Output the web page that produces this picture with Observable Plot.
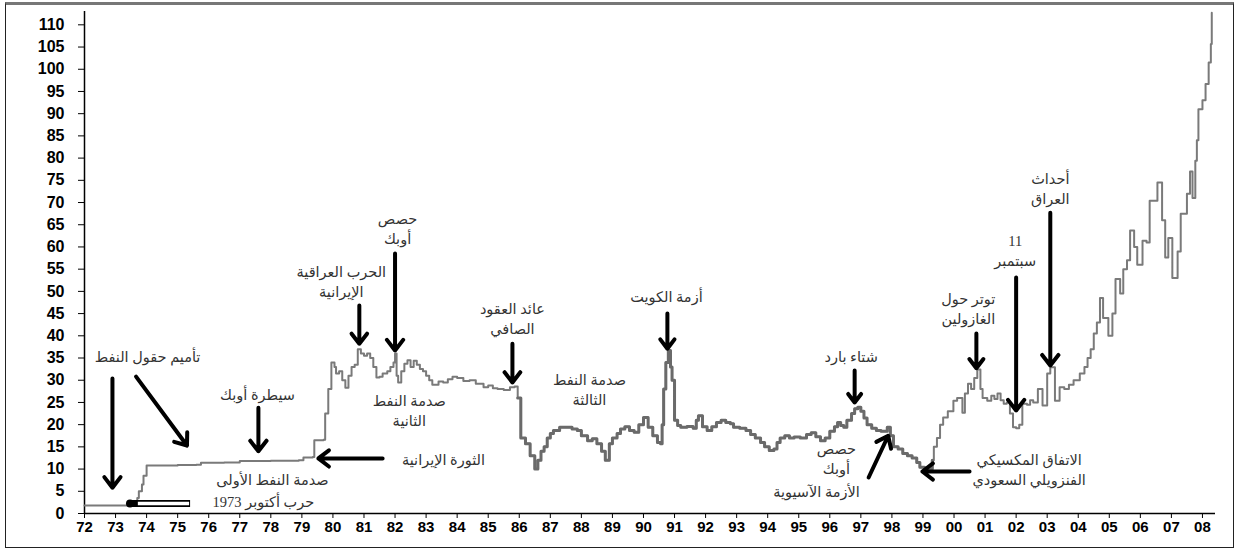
<!DOCTYPE html>
<html>
<head>
<meta charset="utf-8">
<script src="https://cdn.jsdelivr.net/npm/d3@7"></script>
<script src="https://cdn.jsdelivr.net/npm/@observablehq/plot@0.6"></script>
<style>
  html, body { margin: 0; padding: 0; background: #fff; }
  #wrap { position: relative; width: 1238px; height: 551px; overflow: hidden; }
  #border { position: absolute; left: 5px; top: 2px; width: 1229px; height: 546px;
            border: 1.5px solid #222; border-top: 3px solid #777; box-sizing: border-box; pointer-events: none; }
  #chart { position: absolute; left: 0; top: 0; }
</style>
</head>
<body>
<div id="wrap"><div id="chart"></div><div id="border"></div></div>
<script>
// ---- Oil price series (year, USD per barrel) ----
const years = [
  1972.0, 1973.55, 1973.6, 1973.7, 1973.75, 1973.85, 1973.9, 1974.0, 1974.5, 1975.0, 1975.6, 1975.75,
  1976.5, 1977.0, 1978.0, 1978.9, 1979.05, 1979.35, 1979.4, 1979.7, 1979.75, 1979.85, 1979.95,
  1980.05, 1980.1, 1980.2, 1980.3, 1980.4, 1980.5, 1980.6, 1980.7, 1980.8, 1980.9,
  1981.0, 1981.1, 1981.2, 1981.3, 1981.4, 1981.5, 1981.6, 1981.75, 1981.85, 1981.95,
  1982.0, 1982.05, 1982.1, 1982.2, 1982.3, 1982.4, 1982.5, 1982.6, 1982.7, 1982.8, 1982.9,
  1983.0, 1983.1, 1983.2, 1983.4, 1983.55, 1983.7, 1983.85, 1984.0, 1984.2, 1984.4, 1984.6, 1984.85,
  1985.0, 1985.15, 1985.3, 1985.5, 1985.7, 1985.85, 1985.95,
  1986.05, 1986.2, 1986.35, 1986.5, 1986.6, 1986.7, 1986.8, 1986.9,
  1987.0, 1987.1, 1987.3, 1987.55, 1987.7, 1987.87, 1988.0, 1988.2, 1988.35, 1988.5, 1988.65, 1988.77, 1988.9,
  1989.0, 1989.15, 1989.26, 1989.4, 1989.55, 1989.7, 1989.85,
  1990.0, 1990.15, 1990.3, 1990.45, 1990.55, 1990.6, 1990.65, 1990.72, 1990.8, 1990.87, 1990.92,
  1991.0, 1991.1, 1991.2, 1991.4, 1991.6, 1991.7, 1991.77, 1991.9,
  1992.05, 1992.2, 1992.35, 1992.5, 1992.65, 1992.8, 1992.9,
  1993.1, 1993.3, 1993.45, 1993.6, 1993.77, 1993.9,
  1994.05, 1994.2, 1994.3, 1994.4, 1994.55, 1994.7, 1994.85,
  1995.05, 1995.25, 1995.4, 1995.55, 1995.7, 1995.85,
  1996.0, 1996.15, 1996.25, 1996.35, 1996.45, 1996.55, 1996.7, 1996.8, 1996.9,
  1997.0, 1997.1, 1997.2, 1997.35, 1997.5, 1997.65, 1997.85, 1997.95,
  1998.05, 1998.2, 1998.35, 1998.5, 1998.65, 1998.8, 1998.9,
  1999.05, 1999.2, 1999.3, 1999.35, 1999.45, 1999.55, 1999.65, 1999.8, 1999.98,
  2000.1, 2000.2, 2000.27, 2000.35, 2000.45, 2000.55, 2000.65, 2000.75, 2000.85, 2000.92,
  2001.07, 2001.2, 2001.3, 2001.4, 2001.5, 2001.6, 2001.7, 2001.8, 2001.9,
  2002.0, 2002.1, 2002.2, 2002.35, 2002.45, 2002.55, 2002.7, 2002.85,
  2003.0, 2003.1, 2003.25, 2003.4, 2003.55, 2003.7, 2003.85,
  2004.05, 2004.2, 2004.3, 2004.4, 2004.5, 2004.6, 2004.7, 2004.8, 2004.97,
  2005.1, 2005.2, 2005.35, 2005.45, 2005.57, 2005.67, 2005.8, 2005.9,
  2006.07, 2006.2, 2006.3, 2006.4, 2006.55, 2006.7, 2006.8, 2006.9,
  2007.03, 2007.2, 2007.3, 2007.5, 2007.6, 2007.68, 2007.77, 2007.82, 2007.87,
  2008.0, 2008.1, 2008.2, 2008.27, 2008.3
];
const prices = [
  1.8, 1.8, 2.5, 3.5, 5, 6.5, 8.5, 10.8, 10.8, 10.9, 11.0, 11.4,
  11.5, 11.8, 11.9, 12.0, 12.6, 12.7, 16.5, 16.6, 22.5, 28, 34,
  33, 31.5, 32, 30, 28.3, 31, 33, 33.5, 37, 36,
  35.5, 36, 35, 33, 30.6, 30.8, 31.5, 32, 33, 34,
  36, 31, 29.5, 32, 33.7, 34.5, 33, 34.4, 33.5, 32.5, 32,
  31, 30, 29, 29.7, 29.5, 30.2, 30.8, 30.5, 29.8, 30, 29.2, 28.4,
  28.8, 28.2, 28, 27.8, 28.4, 28.6, 26,
  17, 15.7, 13, 10, 12, 14, 15, 17,
  18, 18.7, 19.4, 19.4, 19, 18.7, 17.5, 16.4, 16.8, 15.7, 14, 12, 15.7,
  17, 18, 19, 19.5, 18.7, 18.3, 20,
  21.6, 19.4, 17.5, 16, 15.7, 20, 28, 34, 36.7, 33, 30,
  21, 19.8, 19.4, 19.6, 19.2, 21, 22, 19.5,
  18.7, 19.5, 20.5, 21, 20.5, 20.2, 19.4,
  19.2, 18.7, 17.8, 17, 16, 15,
  14.2, 14.5, 16, 17, 17.5, 17, 17.2,
  17, 17.8, 18.2, 17.3, 16.4, 17,
  18.5, 19.5, 20.5, 19.8, 19.4, 21, 22.5, 23.6, 23.9,
  23, 21.5, 20, 19.2, 18.7, 18.5, 19.4, 17.5,
  15, 14.5, 13.5, 13, 12.5, 11.5, 10.4,
  10.2, 10.0, 12, 15, 17, 20, 21.6, 23, 25.4,
  26, 26, 22.7, 27, 29.2, 28, 30.5, 32.4, 28, 26,
  25.4, 26.5, 25.8, 27, 25.5, 24.7, 25, 22.5, 19.4,
  19.2, 20, 24.7, 24.5, 25.5, 25, 28, 24.3,
  31.5, 32.9, 25.4, 28.4, 28, 29, 30,
  31.5, 33, 35, 37, 40.5, 43, 48.5, 44, 40,
  45, 52.8, 49.5, 55, 57, 63.7, 60, 56,
  61.4, 61, 70.4, 70.4, 74.5, 66, 57.6, 62,
  53, 59, 67.5, 72, 77, 71, 79.4, 84, 91,
  93, 96.7, 101.5, 105.7, 112.7
];

// ---- Axis ticks ----
const yTicks = [0, 5, 10, 15, 20, 25, 30, 35, 40, 45, 50, 55, 60, 65, 70, 75, 80, 85, 90, 95, 100, 105, 110];
const xTickYears = [1972,1973,1974,1975,1976,1977,1978,1979,1980,1981,1982,1983,1984,1985,1986,1987,1988,1989,1990,
  1991,1992,1993,1994,1995,1996,1997,1998,1999,2000,2001,2002,2003,2004,2005,2006,2007,2008];
const xTickLabels = ["72","73","74","75","76","77","78","79","80","81","82","83","84","85","86","87","88","89","90",
  "91","92","93","94","95","96","97","98","99","00","01","02","03","04","05","06","07","08"];

// ---- Annotations (text, anchored at year / price) ----
const noteTexts = [
  "تأميم حقول النفط", "سيطرة أوبك", "صدمة النفط الأولى", "حرب أكتوبر 1973",
  "الحرب العراقية\nالإيرانية", "حصص\nأوبك", "صدمة النفط\nالثانية", "الثورة الإيرانية",
  "عائد العقود\nالصافي", "صدمة النفط\nالثالثة", "أزمة الكويت", "شتاء بارد",
  "حصص\nأوبك", "الأزمة الآسيوية", "الاتفاق المكسيكي\nالفنزويلي السعودي",
  "توتر حول\nالغازولين", "11\nسبتمبر", "أحداث\nالعراق"
];
const noteYears = [1974.03, 1977.57, 1978.05, 1977.76, 1980.27, 1982.08, 1982.46, 1983.56,
  1985.78, 1988.26, 1990.74, 1996.69, 1996.21, 1995.57, 2002.42, 2000.46, 2001.97, 2003.1];
const notePrices = [35.5, 27, 7.9, 2.9, 52.4, 64.3, 23.4, 12.4,
  44.1, 28.1, 49, 35.5, 12.6, 5.2, 10.1, 46.3, 59.4, 73.3];

// ---- Arrows (from year/price to year/price) ----
const arrowX1 = [1972.9, 1973.66, 1977.6, 1980.85, 1982.0, 1981.6, 1985.78, 1990.77, 1996.8, 1997.25, 2000.5, 2000.72, 2002.0, 2003.1];
const arrowY1 = [30.4, 30.8, 23.8, 46.8, 58.5, 12.4, 38.2, 45, 32.2, 8.1, 9.45, 40.5, 53.1, 67.7];
const arrowX2 = [1972.9, 1975.3, 1977.6, 1980.85, 1982.0, 1979.53, 1985.78, 1990.77, 1996.8, 1997.88, 1998.98, 2000.72, 2002.0, 2003.1];
const arrowY2 = [5.8, 15.3, 14, 38.2, 36.7, 12.4, 29.5, 37.1, 25, 17.5, 9.45, 32.7, 23.2, 33.3];
// hollow arrow (October war 1973)
const hollowX1 = [1975.4], hollowX2 = [1973.4], hollowY = [2.25];

const series = years.map((y, i) => ({year: y, price: prices[i]}));
const notes = noteTexts.map((t, i) => ({text: t, year: noteYears[i], price: notePrices[i]}));
const arrows = arrowX1.map((x, i) => ({x1: x, y1: arrowY1[i], x2: arrowX2[i], y2: arrowY2[i]}));
const hollow = hollowX1.map((x, i) => ({x1: x, x2: hollowX2[i], y: hollowY[i]}));
const tickLabel = new Map(xTickYears.map((y, i) => [y, xTickLabels[i]]));

const chart = Plot.plot({
  width: 1238,
  height: 551,
  marginLeft: 84,
  marginRight: 23,
  marginTop: 11,
  marginBottom: 38,
  style: {fontFamily: "'Liberation Sans', Arial, sans-serif", background: "transparent", color: "#000"},
  x: {domain: [1972, 2008.42]},
  y: {domain: [0, 113]},
  marks: [
    Plot.axisY({ticks: yTicks, tickSize: 6, tickPadding: 14, fontSize: 16, fontWeight: "bold", label: null, stroke: "#000"}),
    Plot.axisX({ticks: xTickYears, tickFormat: d => tickLabel.get(d), tickSize: 5, tickPadding: 3,
                fontSize: 15, fontWeight: "bold", label: null, stroke: "#000"}),
    Plot.ruleY([0], {stroke: "#000", strokeWidth: 1.5}),
    Plot.ruleX([1972], {stroke: "#000", strokeWidth: 1.5}),
    Plot.line(series, {x: "year", y: "price", curve: "step-after", stroke: "#7a7a7a", strokeWidth: 2}),
    Plot.line(series.filter(d => d.year >= 1985.9 && d.year <= 1999.3),
              {x: "year", y: "price", curve: "step-after", stroke: "#6a6a6a", strokeWidth: 3}),
    Plot.link(hollow, {x1: "x1", x2: "x2", y1: "y", y2: "y", stroke: "#000", strokeWidth: 7}),
    Plot.link(hollow, {x1: "x1", x2: d => d.x2 + 0.35, y1: "y", y2: "y", stroke: "#fff", strokeWidth: 3.5, dx: -1}),
    Plot.dot(hollow, {x: "x2", y: "y", r: 4, fill: "#000", dx: 2}),
    Plot.arrow(arrows, {x1: "x1", y1: "y1", x2: "x2", y2: "y2", stroke: "#000", strokeWidth: 4, headLength: 5, headAngle: 75}),
    Plot.text(notes, {x: "year", y: "price", text: "text", fontSize: 14.5, fill: "#333", lineHeight: 1.35,
                      fontFamily: "'Liberation Serif', 'DejaVu Sans', serif"})
  ]
});
document.getElementById("chart").appendChild(chart);
</script>
</body>
</html>
